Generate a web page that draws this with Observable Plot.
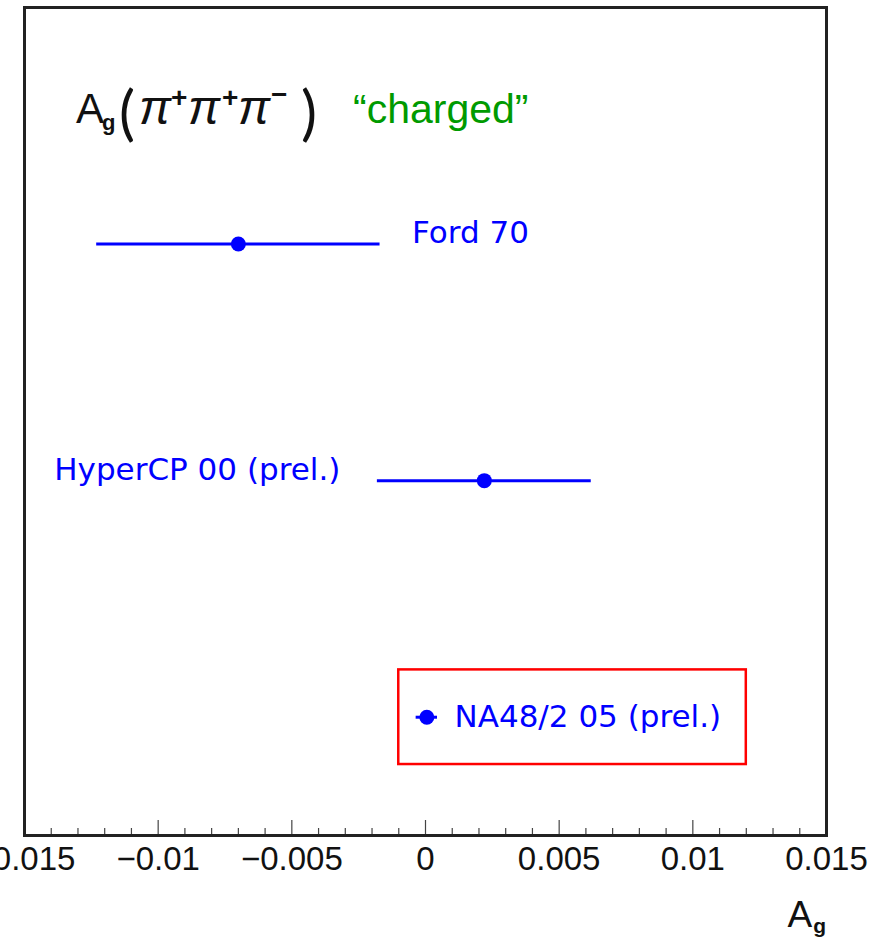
<!DOCTYPE html>
<html>
<head>
<meta charset="utf-8">
<script src="https://cdn.jsdelivr.net/npm/d3@7"></script>
<script src="https://cdn.jsdelivr.net/npm/@observablehq/plot@0.6"></script>
<style>
  html, body { margin: 0; padding: 0; background: #fff; }
  #chart svg { display: block; }
</style>
</head>
<body>
<div id="chart"></div>
<script>
// ---- data ----
const experiments = ["Ford 70", "HyperCP 00 (prel.)", "NA48/2 05 (prel.)"];
const values = [-0.0070, 0.0022, 0.00005];
const errors = [0.0053, 0.0040, 0.0004];
const rows = [2.5, 1.5, 0.5];
const highlight = {x1: -0.0010, x2: 0.0120, y1: 0.3, y2: 0.7};

const tickValues = [-0.015, -0.01, -0.005, 0, 0.005, 0.01, 0.015];
const tickLabels = ["\u22120.015", "\u22120.01", "\u22120.005", "0", "0.005", "0.01", "0.015"];
const minorTicks = d3.range(-15, 16).filter(i => i % 5 !== 0).map(i => i / 1000);

const data = experiments.map((name, i) => ({
  name, value: values[i], lo: values[i] - errors[i], hi: values[i] + errors[i], row: rows[i]
}));

const BLUE = "#0000ff";
const labelFont = "DejaVu Sans";

// title: A_g(π+π+π−)  "charged"
function titleMark(index, scales, values, dims) {
  const g = d3.create("svg:g")
    .attr("text-anchor", "start")
    .attr("font-family", "Liberation Sans")
    .attr("fill", "#111");
  const L = dims.marginLeft; // 24
  const t = g.append("text");
  const part = (txt, dx, y, size, extra = {}) => {
    const s = t.append("tspan").attr("x", L + dx).attr("y", y).attr("font-size", size).text(txt);
    for (const k in extra) s.attr(k, extra[k]);
  };
  part("A", 52, 123, 42);
  part("g", 78, 130, 22, {"font-weight": "bold"});
  part("(", 95, 134, 60, {"font-family": "Lato"});
  const piX = [115, 164, 214];
  const sup = ["+", "+", "\u2212"];
  const supX = [147, 198, 247];
  piX.forEach((px, i) => {
    part("\u03c0", px, 124, 48, {"font-style": "italic"});
    part(sup[i], supX[i], sup[i] === "+" ? 107 : 104, 28, {"font-weight": "bold"});
  });
  part(")", 277, 134, 60, {"font-family": "Lato"});
  g.append("text")
    .attr("x", L + 329).attr("y", 123)
    .attr("font-size", 41)
    .attr("fill", "#009a00")
    .text("\u201ccharged\u201d");
  return g.node();
}

// x-axis title A_g at the end of the axis
function axisTitleMark(index, scales, values, dims) {
  const g = d3.create("svg:g");
  const t = g.append("text")
    .attr("x", dims.width - dims.marginRight)
    .attr("y", dims.height - 13)
    .attr("text-anchor", "end")
    .attr("font-family", "Liberation Sans")
    .attr("font-size", 37)
    .attr("fill", "#111");
  t.append("tspan").text("A");
  t.append("tspan").attr("font-size", 21).attr("font-weight", "bold").attr("dx", 1).attr("dy", 6).text("g");
  return g.node();
}

const chart = Plot.plot({
  width: 875,
  height: 940,
  marginLeft: 24,
  marginRight: 49,
  marginTop: 7,
  marginBottom: 105,
  x: {domain: [-0.015, 0.015], axis: null},
  y: {domain: [0, 3.5], axis: null},
  marks: [
    // tick labels
    Plot.axisX(tickValues, {
      tickSize: 0,
      tickPadding: 11,
      tickFormat: d => tickLabels[tickValues.indexOf(d)],
      fontSize: 33,
      fontFamily: "Liberation Sans",
      fill: "#111"
    }),
    // inward tick marks
    Plot.ruleX(tickValues, {x: d => d, y1: 0, y2: 0, insetTop: -15, stroke: "#444", strokeWidth: 1.2}),
    Plot.ruleX(minorTicks, {x: d => d, y1: 0, y2: 0, insetTop: -7, stroke: "#444", strokeWidth: 1.2}),
    // highlight box around NA48/2
    Plot.rect([highlight], {x1: "x1", x2: "x2", y1: "y1", y2: "y2", fill: "none", stroke: "#ff0000", strokeWidth: 2.5}),
    // error bars
    Plot.ruleY(data, {y: "row", x1: "lo", x2: "hi", stroke: BLUE, strokeWidth: 3}),
    Plot.dot(data, {x: "value", y: "row", r: 7.5, fill: BLUE, stroke: "none"}),
    // labels
    Plot.text(data.filter(d => d.name === "Ford 70"), {
      x: "hi", y: "row", text: "name", textAnchor: "start", dx: 32, dy: -11,
      fontSize: 31, fontFamily: labelFont, fill: BLUE
    }),
    Plot.text(data.filter(d => d.name.startsWith("HyperCP")), {
      x: "lo", y: "row", text: "name", textAnchor: "end", dx: -37, dy: -11,
      fontSize: 31, fontFamily: labelFont, fill: BLUE
    }),
    Plot.text(data.filter(d => d.name.startsWith("NA48")), {
      x: "hi", y: "row", text: "name", textAnchor: "start", dx: 17, dy: 0,
      fontSize: 31, fontFamily: labelFont, fill: BLUE
    }),
    titleMark,
    axisTitleMark,
    Plot.frame({stroke: "#222", strokeWidth: 3})
  ]
});

document.getElementById("chart").appendChild(chart);
</script>
</body>
</html>
